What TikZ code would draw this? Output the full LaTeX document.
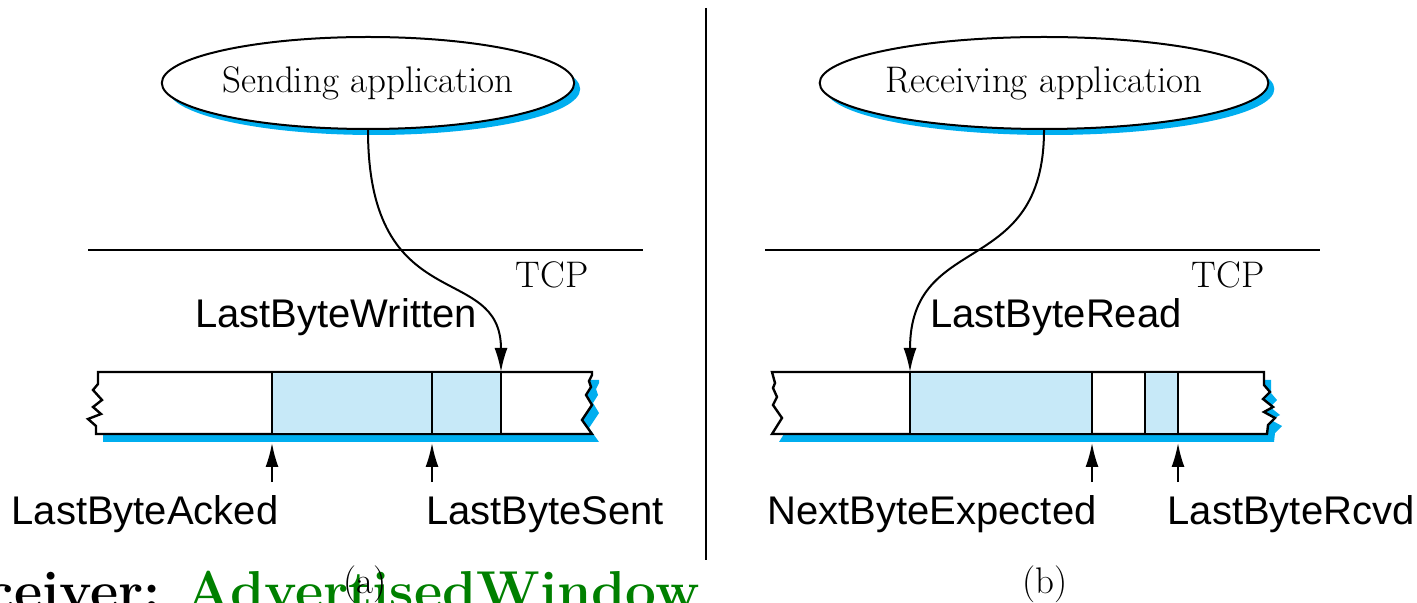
\documentclass[tikz,border=0pt]{standalone}
\usepackage{fontspec}
\newfontfamily\labelfont{Liberation Sans}
\usetikzlibrary{arrows.meta,shapes.geometric,shadows}
\definecolor{tcpblue}{RGB}{0,174,239}
\definecolor{buffill}{RGB}{199,233,248}
\definecolor{advgreen}{RGB}{0,128,0}
\begin{document}
\begin{tikzpicture}[x=0.5pt,y=-0.5pt]
\tikzstyle{app}=[draw,ellipse,fill=white,line width=1pt,minimum width=200pt,minimum height=46pt,inner sep=0pt,font=\fontsize{18.5}{22}\selectfont,drop shadow={shadow xshift=3pt,shadow yshift=-3pt,fill=tcpblue,opacity=1}]
\tikzstyle{lbl}=[anchor=base,inner sep=0pt,font=\labelfont\fontsize{20}{24}\selectfont]
\tikzstyle{serif}=[anchor=base,inner sep=0pt,font=\fontsize{18.5}{22}\selectfont]
\tikzstyle{ptr}=[line width=1pt,-{Latex[length=12pt,width=6.5pt]}]
\tikzstyle{buf}=[line width=1.2pt,line join=miter]
\clip (0,0) rectangle (1417,603);
% (a) sender
\node[app] (send) at (368,83) {Sending application};
\draw[line width=1pt] (88,250) -- (643,250);
\node[serif] (tcpa) at (552,288) {TCP};
\fill[tcpblue,shift={(7,8)}] (98,372) -- (592,372) -- (592,375) -- (589,381) -- (591,387) -- (586,395) -- (592,405) -- (582,420) -- (592,434) -- (96,434) -- (96,426) -- (88,419) -- (101,414) -- (93,407) -- (102,400) -- (93,390) -- (98,384) -- cycle;
\filldraw[buf,fill=white] (98,372) -- (592,372) -- (592,375) -- (589,381) -- (591,387) -- (586,395) -- (592,405) -- (582,420) -- (592,434) -- (96,434) -- (96,426) -- (88,419) -- (101,414) -- (93,407) -- (102,400) -- (93,390) -- (98,384) -- cycle;
\filldraw[buf,fill=buffill] (272,372) rectangle (432,434);
\filldraw[buf,fill=buffill] (432,372) rectangle (501,434);
\coordinate (written) at (501,372);
\coordinate (acked) at (272,443);
\coordinate (ackedtail) at (272,482);
\coordinate (sent) at (432,443);
\coordinate (senttail) at (432,482);
\draw[ptr] (send.south) .. controls (368,320) and (501,260) .. (written);
\draw[ptr] (ackedtail) -- (acked);
\draw[ptr] (senttail) -- (sent);
\node[lbl] (wlbl) at (336,328) {LastByteWritten};
\node[lbl] (albl) at (145,524) {LastByteAcked};
\node[lbl] (slbl) at (545,524) {LastByteSent};
% divider
\draw[line width=1pt] (706,8) -- (706,560);
% (b) receiver
\node[app] (recv) at (1044,83) {Receiving application};
\draw[line width=1pt] (765,250) -- (1320,250);
\node[serif] (tcpb) at (1228,288) {TCP};
\fill[tcpblue,shift={(7,8)}] (772,372) -- (1264,372) -- (1264,385) -- (1270,392) -- (1263,399) -- (1273,407) -- (1264,412) -- (1275,418) -- (1268,425) -- (1267,434) -- (772,434) -- (782,418) -- (773,405) -- (777,397) -- (773,388) -- (775,383) -- cycle;
\filldraw[buf,fill=white] (772,372) -- (1264,372) -- (1264,385) -- (1270,392) -- (1263,399) -- (1273,407) -- (1264,412) -- (1275,418) -- (1268,425) -- (1267,434) -- (772,434) -- (782,418) -- (773,405) -- (777,397) -- (773,388) -- (775,383) -- cycle;
\filldraw[buf,fill=buffill] (910,372) rectangle (1092,434);
\filldraw[buf,fill=buffill] (1145,372) rectangle (1178,434);
\coordinate (read) at (910,372);
\coordinate (expected) at (1092,443);
\coordinate (expectedtail) at (1092,482);
\coordinate (rcvd) at (1178,443);
\coordinate (rcvdtail) at (1178,482);
\draw[ptr] (recv.south) .. controls (1044,280) and (910,230) .. (read);
\draw[ptr] (expectedtail) -- (expected);
\draw[ptr] (rcvdtail) -- (rcvd);
\node[lbl] (rdlbl) at (1056,328) {LastByteRead};
\node[lbl] (elbl) at (932,524) {NextByteExpected};
\node[lbl] (rlbl) at (1291,524) {LastByteRcvd};
% cut-off slide text
\node[anchor=base west,inner sep=0pt,text=advgreen,font=\bfseries\fontsize{27.4}{32}\selectfont] (advwin) at (185,609) {AdvertisedWindow};
\node[anchor=base east,inner sep=0pt,font=\bfseries\fontsize{27.4}{32}\selectfont] (rcvr) at ([xshift=-12pt]advwin.base west) {ceiver:};
\node[serif] (capa) at (365,593) {(a)};
\node[serif] (capb) at (1045,593) {(b)};
\end{tikzpicture}
\end{document}
